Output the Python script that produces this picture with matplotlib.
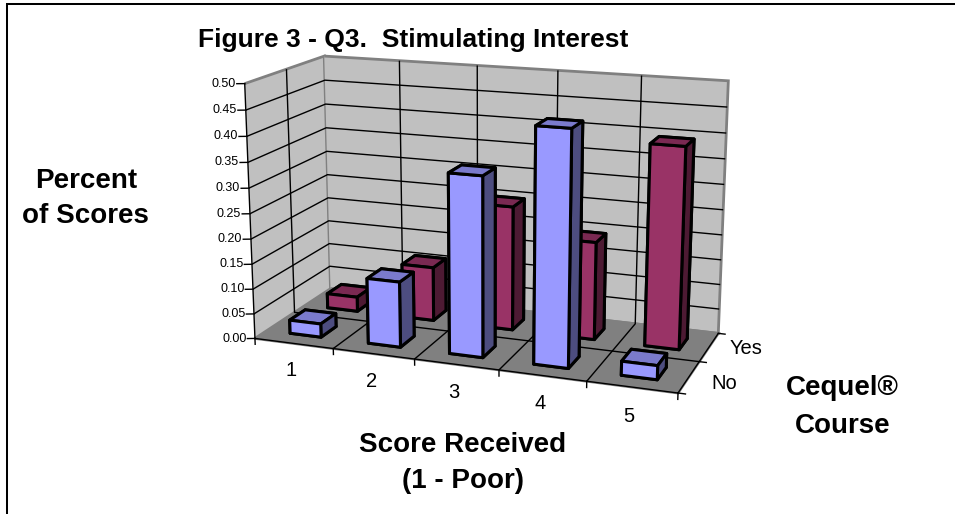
import numpy as np
import matplotlib
matplotlib.use("Agg")
import matplotlib.pyplot as plt
from matplotlib.patches import Rectangle

plt.rcParams["font.family"] = ["Liberation Sans", "DejaVu Sans"]
plt.rcParams["grid.color"] = "black"
plt.rcParams["grid.linewidth"] = 1.0

categories = ["1", "2", "3", "4", "5"]
series = ["No", "Yes"]
no_course = [0.027, 0.13, 0.35, 0.45, 0.027]
yes_course = [0.03, 0.11, 0.25, 0.195, 0.395]
z_ticks = [0.00, 0.05, 0.10, 0.15, 0.20, 0.25, 0.30, 0.35, 0.40, 0.45, 0.50]

# colours per face: bottom, top, front, back, left, right
blue_faces = ["#9999FF", "#7A7ACC", "#9999FF", "#9999FF", "#4D4D80", "#4D4D80"]
red_faces = ["#993366", "#7A2952", "#993366", "#993366", "#4D1A33", "#4D1A33"]

fig = plt.figure(figsize=(9.55, 5.14), dpi=100)
ax = fig.add_axes([0.22810, 0.06299, 0.55029, 1.02242], projection="3d")
ax.patch.set_alpha(0)
ax.computed_zorder = False
ax.view_init(elev=14.8799, azim=-69.9219)
ax.set_proj_type("persp", focal_length=0.5543)
ax.set_box_aspect((1, 0.4031, 0.5974))

# Native ticks only feed the grid, so leave out the ones on the box edges
ax.set_xticks(range(1, 5))
ax.set_yticks([1])
ax.set_zticks(z_ticks[1:-1])
ax.set_xlim(0, 5, view_margin=0)
ax.set_ylim(0, 2, view_margin=0)
ax.set_zlim(0, 0.5, view_margin=0)
ax.tick_params(axis="both", label1On=False, label2On=False)

# Walls and floor
ax.xaxis.set_pane_color("#C0C0C0")
ax.yaxis.set_pane_color("#C0C0C0")
ax.zaxis.set_pane_color("#808080")
for axis in (ax.xaxis, ax.yaxis, ax.zaxis):
    axis.pane.set_edgecolor("#808080")
    axis.pane.set_linewidth(2)
    axis.line.set_visible(False)
    axis.label.set_visible(False)
    axis.offsetText.set_visible(False)
    axis._axinfo["tick"]["inward_factor"] = 0.0
    axis._axinfo["tick"]["outward_factor"] = 0.0

# Axis lines
ax.plot([0, 5], [0, 0], [0, 0], color="black", lw=1.0, zorder=3)
ax.plot([5, 5], [0, 2], [0, 0], color="black", lw=1.0, zorder=3)
ax.plot([0, 0], [0, 0], [0, 0.5], color="black", lw=1.0, zorder=3)

# Axis ticks
for i in range(len(categories) + 1):
    ax.plot([i, i], [0, 0], [0, -0.012], color="black", lw=1.0, zorder=3)
for j in range(len(series) + 1):
    ax.plot([5, 5.08], [j, j], [0, 0], color="black", lw=1.0, zorder=3)
for z in z_ticks:
    ax.plot([-0.08, 0], [-0.034, 0], [z, z], color="black", lw=1.0, zorder=3)

# Bars, back row first
width = 0.4
for row, values, faces in ((1, yes_course, red_faces), (0, no_course, blue_faces)):
    for i, v in enumerate(values):
        ax.bar3d(i + 0.5 - width / 2, row + 0.5 - width / 2, 0, width, width, v,
                 color=faces, edgecolor="black", linewidth=2.2, shade=False,
                 zorder=10 + (1 - row) * 10 + i)

# Tick labels
for i, c in enumerate(categories):
    ax.text(i + 0.5, -0.08, -0.05, c, fontsize=14.5, ha="center", va="center", zorder=40)
for j, s in enumerate(series):
    ax.text(5.42, 0.36 + j * 1.16, 0.005, s, fontsize=14.5, ha="center", va="center", zorder=40)
for z in z_ticks:
    ax.text(-0.09, -0.038, z, f"{z:.2f}", fontsize=9, ha="right", va="center", zorder=40)

# Frame, only its top and left sides fall inside the picture
fig.add_artist(Rectangle((7 / 955, -0.2), 1.2, 1.2 - 4.3 / 514, transform=fig.transFigure,
                         fill=False, edgecolor="black", linewidth=1.45))

# Texts outside the chart
fig.text(198 / 955, 1 - 47 / 514, "Figure 3 - Q3.  Stimulating Interest", fontsize=19,
         fontweight="bold", ha="left", va="baseline")
fig.text(86.5 / 955, 1 - 188 / 514, "Percent", fontsize=20, fontweight="bold", ha="center", va="baseline")
fig.text(85.5 / 955, 1 - 223 / 514, "of Scores", fontsize=20, fontweight="bold", ha="center", va="baseline")
fig.text(463 / 955, 1 - 452 / 514, "Score Received", fontsize=20, fontweight="bold", ha="center", va="baseline")
fig.text(463 / 955, 1 - 488 / 514, "(1 - Poor)", fontsize=20, fontweight="bold", ha="center", va="baseline")
fig.text(842.5 / 955, 1 - 395 / 514, "Cequel®", fontsize=20, fontweight="bold", ha="center", va="baseline")
fig.text(842.5 / 955, 1 - 433 / 514, "Course", fontsize=20, fontweight="bold", ha="center", va="baseline")

fig.savefig("out.png")
